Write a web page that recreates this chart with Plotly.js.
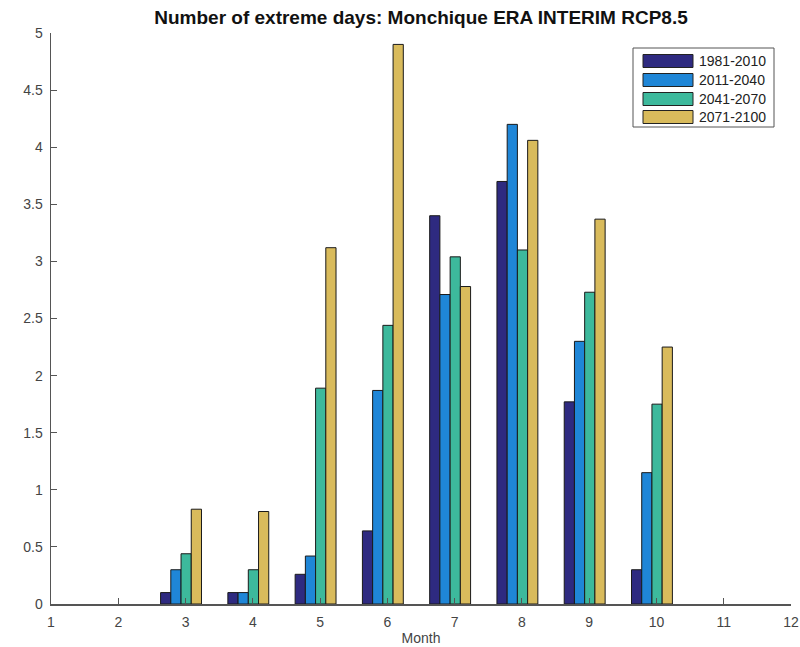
<!DOCTYPE html>
<html>
<head>
<meta charset="utf-8">
<script src="https://cdn.plot.ly/plotly-3.0.1.min.js"></script>
<style>html,body{margin:0;padding:0;background:#fff;}#chart{width:800px;height:647px;}</style>
</head>
<body>
<div id="chart"></div>
<script>
const months = [1,2,3,4,5,6,7,8,9,10,11,12];
const seriesNames = ['1981-2010','2011-2040','2041-2070','2071-2100'];
const p1981 = [0,0,0.10,0.10,0.26,0.64,3.40,3.70,1.77,0.30,0,0];
const p2011 = [0,0,0.30,0.10,0.42,1.87,2.71,4.20,2.30,1.15,0,0];
const p2041 = [0,0,0.44,0.30,1.89,2.44,3.04,3.10,2.73,1.75,0,0];
const p2071 = [0,0,0.83,0.81,3.12,4.90,2.78,4.06,3.37,2.25,0,0];
const yTicks = [0,0.5,1,1.5,2,2.5,3,3.5,4,4.5,5];
const yTickText = ['0','0.5','1','1.5','2','2.5','3','3.5','4','4.5','5'];

const colors = ['#2e2a80','#1f86d7','#3db99c','#d9bb5c'];
const values = [p1981,p2011,p2041,p2071];

const W = 800, H = 647;
const M = {l:51, r:9, t:33, b:43};
const PW = W - M.l - M.r, PH = H - M.t - M.b;
const px2x = p => (p - M.l) / PW;
const py2y = p => (H - M.b - p) / PH;

const barW = 0.152;
const groupShift = -0.067;
const traces = values.map((v,i)=>({
  type:'bar', x:months, y:v, name:seriesNames[i],
  width:barW, offset: groupShift - 2*barW + i*barW,
  marker:{color:colors[i], line:{color:'#1a1a1a', width:v.map(d=> d>0 ? 1 : 0)}},
  showlegend:false
}));

const fam = 'Liberation Sans, Arial, sans-serif';
const axisFont = {family:fam, size:14, color:'#444'};

// custom MATLAB-style legend
const shapes = [{type:'rect', xref:'paper', yref:'paper',
  x0:px2x(633), x1:px2x(774), y0:py2y(127), y1:py2y(48),
  line:{color:'#555', width:1}, fillcolor:'#fff', layer:'above'}];
const annotations = [];
const rowY = [61, 80, 99, 117];
seriesNames.forEach((n,i)=>{
  shapes.push({type:'rect', xref:'paper', yref:'paper',
    x0:px2x(643), x1:px2x(693), y0:py2y(rowY[i]+6.5), y1:py2y(rowY[i]-6.5),
    line:{color:'#222', width:1}, fillcolor:colors[i], layer:'above'});
  annotations.push({xref:'paper', yref:'paper', x:px2x(697), y:py2y(rowY[i]),
    xanchor:'left', yanchor:'middle', showarrow:false, text:n,
    font:{family:fam, size:14, color:'#222'}});
});

const layout = {
  width:W, height:H,
  margin:M,
  paper_bgcolor:'#fff', plot_bgcolor:'#fff',
  barmode:'overlay',
  showlegend:false,
  title:{text:'<b>Number of extreme days: Monchique ERA INTERIM RCP8.5</b>',
    font:{family:fam, size:19, color:'#111'},
    x:0.5, xref:'paper', xanchor:'center', y:1-17.5/H, yref:'container', yanchor:'middle'},
  xaxis:{range:[1,12], tickmode:'array', tickvals:months, ticktext:months.map(String),
    showgrid:false, zeroline:false, showline:true, linecolor:'#555', linewidth:1.5,
    ticks:'inside', ticklen:6, tickcolor:'#555', tickfont:axisFont, ticklabelstandoff:5,
    title:{text:'Month', font:{family:fam, size:14, color:'#444'}, standoff:4}},
  yaxis:{range:[0,5], tickmode:'array', tickvals:yTicks, ticktext:yTickText,
    showgrid:false, zeroline:false, showline:true, linecolor:'#555', linewidth:1.5,
    ticks:'inside', ticklen:6, tickcolor:'#555', tickfont:axisFont, ticklabelstandoff:4},
  shapes:shapes,
  annotations:annotations
};

Plotly.newPlot('chart', traces, layout, {displayModeBar:false, staticPlot:true});
</script>
</body>
</html>
